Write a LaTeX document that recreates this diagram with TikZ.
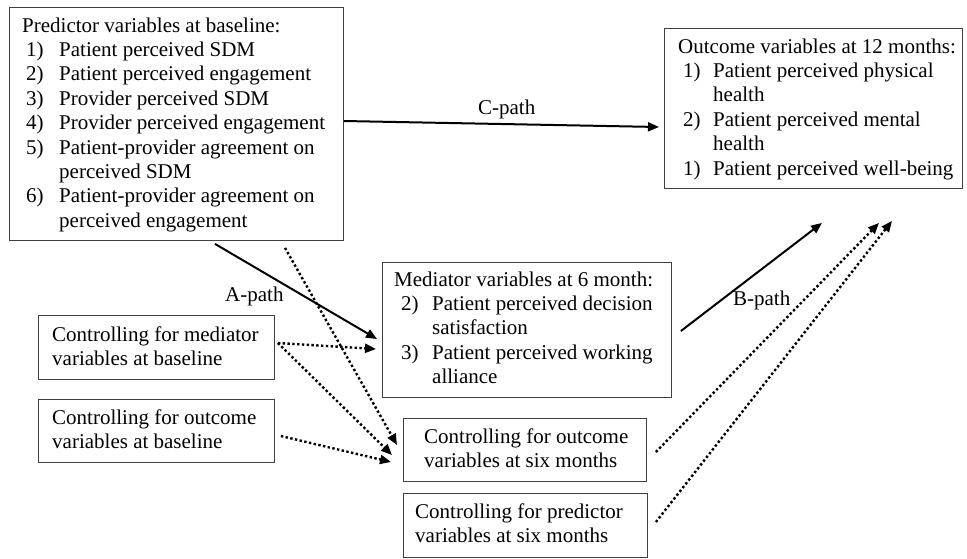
\documentclass[tikz,border=0pt]{standalone}
\usepackage{fontspec}
\setmainfont{Liberation Serif}
\usetikzlibrary{arrows.meta,calc}
\newcommand{\pnum}[3]{\makebox[#1][l]{\hspace{#2}#3}}
\begin{document}
\begin{tikzpicture}[x=1pt,y=-1pt,
  box/.style={draw=black!75, line width=0.9pt, anchor=north west, inner sep=0pt},
  txt/.style={anchor=base west, inner sep=0pt, font=\fontsize{21}{24.4}\selectfont},
  lbl/.style={anchor=base west, inner sep=0pt, font=\fontsize{21}{24.4}\selectfont},
  sarrow/.style={line width=2pt, -{Triangle[length=11pt,width=9pt]}},
  darrow/.style={line width=2.4pt, dash pattern=on 2.4pt off 2.4pt, -{Triangle[length=11pt,width=9pt]}},
]
\useasboundingbox (0,0) rectangle (967,558);

% boxes
\node[box, minimum width=334, minimum height=233] (pred) at (9,7) {};
\node[box, minimum width=298, minimum height=160] (out12) at (664,28) {};
\node[box, minimum width=289, minimum height=135] (med6) at (382,262) {};
\node[box, minimum width=236, minimum height=64] (medbase) at (38,315) {};
\node[box, minimum width=236, minimum height=63] (outbase) at (38,399) {};
\node[box, minimum width=243, minimum height=63] (ctrlout6) at (403,418) {};
\node[box, minimum width=244, minimum height=64] (ctrlpred6) at (403,493) {};

% texts
\node[txt] (predtxt) at ($(pred.north west)+(13,25)$) {\begin{tabular}[t]{@{}l@{}l@{}}
\multicolumn{2}{@{}l@{}}{Predictor variables at baseline:}\\
\pnum{37pt}{4pt}{1)} & Patient perceived SDM\\
\pnum{37pt}{4pt}{2)} & Patient perceived engagement\\
\pnum{37pt}{4pt}{3)} & Provider perceived SDM\\
\pnum{37pt}{4pt}{4)} & Provider perceived engagement\\
\pnum{37pt}{4pt}{5)} & Patient-provider agreement on\\
 & perceived SDM\\
\pnum{37pt}{4pt}{6)} & Patient-provider agreement on\\
 & perceived engagement
\end{tabular}};

\node[txt] (out12txt) at ($(out12.north west)+(14,25)$) {\begin{tabular}[t]{@{}l@{}l@{}}
\multicolumn{2}{@{}l@{}}{Outcome variables at 12 months:}\\
\pnum{35pt}{5pt}{1)} & Patient perceived physical\\
 & health\\
\pnum{35pt}{5pt}{2)} & Patient perceived mental\\
 & health\\
\pnum{35pt}{5pt}{1)} & Patient perceived well-being
\end{tabular}};

\node[txt] (med6txt) at ($(med6.north west)+(12,24)$) {\begin{tabular}[t]{@{}l@{}l@{}}
\multicolumn{2}{@{}l@{}}{Mediator variables at 6 month:}\\
\pnum{38pt}{7pt}{2)} & Patient perceived decision\\
 & satisfaction\\
\pnum{38pt}{7pt}{3)} & Patient perceived working\\
 & alliance
\end{tabular}};

\node[txt] (medbasetxt) at ($(medbase.north west)+(14,26)$) {\begin{tabular}[t]{@{}l@{}}
Controlling for mediator\\ variables at baseline\end{tabular}};
\node[txt] (outbasetxt) at ($(outbase.north west)+(14,25)$) {\begin{tabular}[t]{@{}l@{}}
Controlling for outcome\\ variables at baseline\end{tabular}};
\node[txt] (ctrlout6txt) at ($(ctrlout6.north west)+(21,25)$) {\begin{tabular}[t]{@{}l@{}}
Controlling for outcome\\ variables at six months\end{tabular}};
\node[txt] (ctrlpred6txt) at ($(ctrlpred6.north west)+(12,25)$) {\begin{tabular}[t]{@{}l@{}}
Controlling for predictor\\ variables at six months\end{tabular}};

% labels
\node[lbl] (clbl) at ($(pred.north east)+(134,107)$) {C-path};
\node[lbl] (albl) at ($(pred.south west)+(216,61)$) {A-path};
\node[lbl] (blbl) at ($(med6.north east)+(61,43)$) {B-path};

% solid paths
\draw[sarrow] ($(pred.north east)+(0,114)$) -- ($(out12.north west)+(-5,99)$);
\draw[sarrow] ($(pred.south west)+(206,3)$) -- ($(med6.north west)+(-5,77)$);
\draw[sarrow] ($(med6.north east)+(9,69)$) -- ($(out12.south west)+(158,34)$);

% dotted paths
\draw[darrow] ($(pred.south west)+(276,7)$) -- ($(ctrlout6.north west)+(-6,27)$);
\draw[darrow] ($(medbase.north east)+(3,28)$) -- ($(med6.north west)+(-6,87)$);
\draw[darrow] ($(medbase.north east)+(3,28)$) -- ($(ctrlout6.north west)+(-11,37)$);
\draw[darrow] ($(outbase.north east)+(6,37)$) -- ($(ctrlout6.north west)+(-12,44)$);
\draw[darrow] ($(ctrlout6.north east)+(9,34)$) -- ($(out12.south west)+(215,34)$);
\draw[darrow] ($(ctrlpred6.north east)+(8,29)$) -- ($(out12.south west)+(228,32)$);
\end{tikzpicture}
\end{document}
